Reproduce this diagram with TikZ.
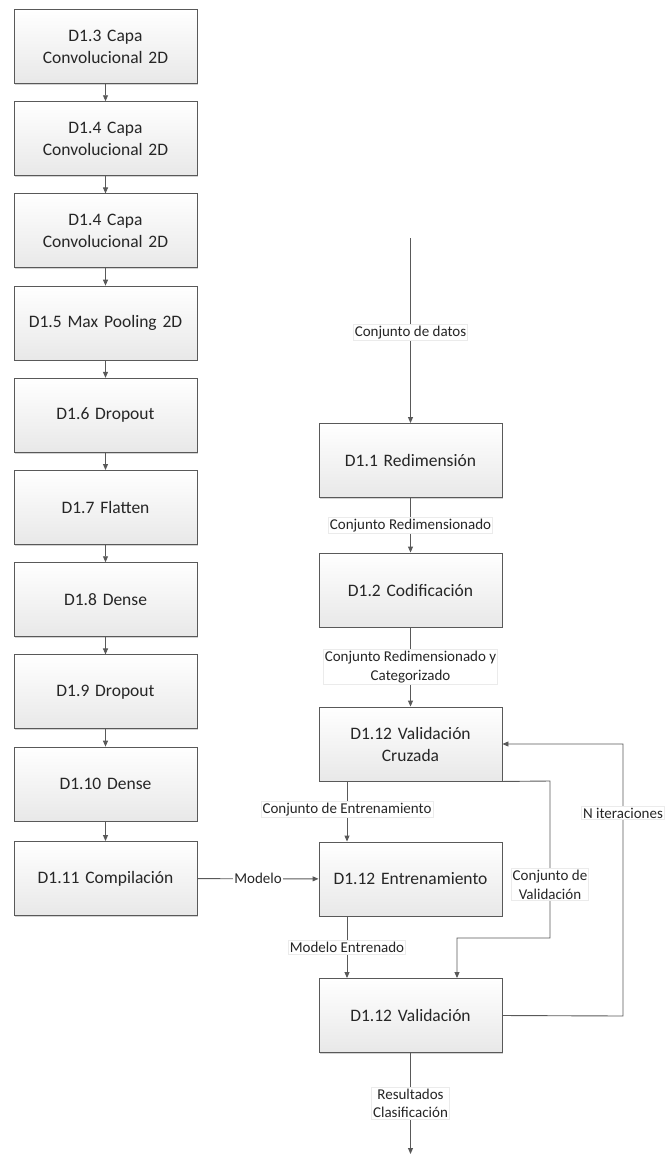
\documentclass[tikz,border=0pt]{standalone}
\usepackage{fontspec}
\setmainfont{Carlito}
\usetikzlibrary{arrows.meta,shadows}
\begin{document}
\begin{tikzpicture}[x=1pt,y=-1pt,
  box/.style={draw=black!65,line width=0.9pt,top color=white,bottom color=black!9,
    minimum width=183pt,minimum height=74pt,text width=175pt,align=center,
    font=\fontsize{17.5}{22}\selectfont,text=black!85,
    drop shadow={opacity=0.35,shadow xshift=1.2pt,shadow yshift=-1.2pt}},
  lbl/.style={fill=white,draw=black!8,inner sep=1.5pt,align=center,
    font=\fontsize{15}{18.5}\selectfont,text=black!85},
  arr/.style={draw=black!65,line width=0.9pt,-{Triangle[length=6pt,width=5pt]}},
  ln/.style={draw=black!65,line width=0.9pt}]
\useasboundingbox (0,0) rectangle (666,1160);
% left column
\node[box] (c1) at (105.5,46.5) {D1.3 Capa\\Convolucional 2D};
\node[box] (c2) at (105.5,138.7) {D1.4 Capa\\Convolucional 2D};
\node[box] (c3) at (105.5,230.9) {D1.4 Capa\\Convolucional 2D};
\node[box] (c4) at (105.5,323.1) {D1.5 Max Pooling 2D};
\node[box] (c5) at (105.5,415.3) {D1.6 Dropout};
\node[box] (c6) at (105.5,507.5) {D1.7 Flatten};
\node[box] (c7) at (105.5,599.7) {D1.8 Dense};
\node[box] (c8) at (105.5,691.9) {D1.9 Dropout};
\node[box] (c9) at (105.5,784.1) {D1.10 Dense};
\node[box] (c10) at (105.5,878.5) {D1.11 Compilación};
\foreach \a/\b in {c1/c2,c2/c3,c3/c4,c4/c5,c5/c6,c6/c7,c7/c8,c8/c9,c9/c10}
  \draw[arr] (\a) -- (\b);
% right column
\node[box] (r1) at (410.5,460.5) {D1.1 Redimensión};
\node[box] (r2) at (410.5,590) {D1.2 Codificación};
\node[box] (vc) at (410.5,744) {D1.12 Validación\\Cruzada};
\node[box] (en) at (410.5,879) {D1.12 Entrenamiento};
\node[box] (va) at (410.5,1015.5) {D1.12 Validación};
\coordinate (in) at (410.5,238);
\coordinate (out) at (410.5,1154);
\draw[arr] (in) -- node[lbl,pos=0.51] {Conjunto de datos} (r1);
\draw[arr] (r1) -- node[lbl,pos=0.5] {Conjunto Redimensionado} (r2);
\draw[arr] (r2) -- node[lbl,pos=0.5] {Conjunto Redimensionado y\\Categorizado} (vc);
\draw[arr] (vc.south west -| 347,0) -- node[lbl,pos=0.47] {Conjunto de Entrenamiento} (en.north west -| 347,0);
\draw[arr] (c10) -- node[lbl,pos=0.5,draw=none] {Modelo} (en);
\draw[arr] (en.south west -| 347,0) -- node[lbl,pos=0.5] {Modelo Entrenado} (va.north west -| 347,0);
\coordinate (v1) at (550,781);
\coordinate (v2) at (550,938);
\coordinate (v3) at (457,938);
\draw[arr] (vc.south east) -- (v1) -- node[lbl,pos=0.66] {Conjunto de\\Validación} (v2) -- (v3) -- (va.north -| v3);
\coordinate (n1) at (623,1016);
\coordinate (n2) at (623,744);
\draw[arr] (va.east) -- (n1) -- node[lbl,pos=0.746] {N iteraciones} (n2) -- (vc.east);
\draw[arr] (va) -- node[lbl,pos=0.5] {Resultados\\Clasificación} (out);
\end{tikzpicture}
\end{document}
